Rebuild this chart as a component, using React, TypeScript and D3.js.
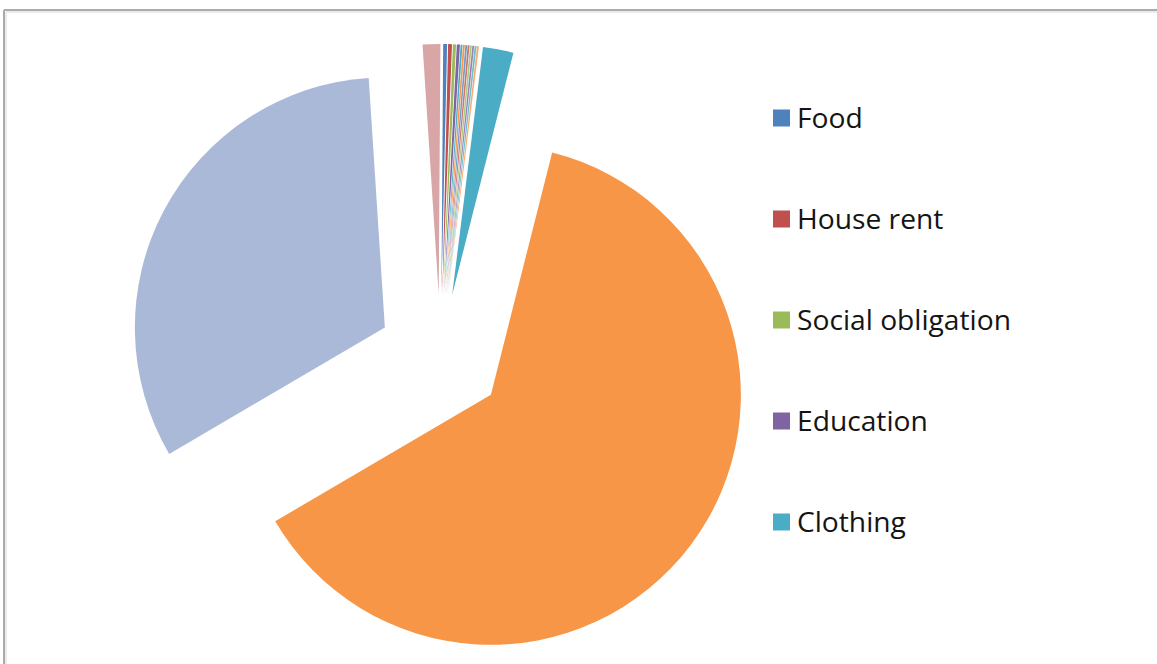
import React from "react";
import * as d3 from "d3";

// Slice order, clockwise from the top of the pie
const sliceNames = [
  "Food",
  "House rent",
  "Social obligation",
  "Education",
  "Item 6",
  "Item 7",
  "Item 8",
  "Item 9",
  "Item 10",
  "Item 11",
  "Item 12",
  "Item 13",
  "Clothing",
  "Item 14",
  "Item 15",
  "Item 16",
];
// Percent shares
const sliceValues = [
  0.25, 0.25, 0.2, 0.2, 0.12, 0.12, 0.12, 0.12, 0.12, 0.12, 0.12, 0.12, 1.97,
  62.6, 32.4, 1.14,
];
const sliceColors = [
  "#4F81BD",
  "#C0504D",
  "#9BBB59",
  "#8064A2",
  "#4BACC6",
  "#F79646",
  "#729ACA",
  "#CD7371",
  "#AFC97A",
  "#9983B5",
  "#6FBDD1",
  "#F9AB6B",
  "#4BACC6",
  "#F79646",
  "#A9B9D7",
  "#D8A6A6",
];
const legendNames = ["Food", "House rent", "Social obligation", "Education", "Clothing"];
const legendColors = ["#4F81BD", "#C0504D", "#9BBB59", "#8064A2", "#4BACC6"];

const W = 1157;
const H = 664;
const CX = 440.5;
const CY = 357;
const R = 250;
const EXPLODE = 63;
const START = (0.4 * Math.PI) / 180;

export default function App() {
  const data = sliceNames.map((n, i) => ({ name: n, value: sliceValues[i], color: sliceColors[i] }));
  const pie = d3
    .pie<any>()
    .sort(null)
    .value((d: any) => d.value)
    .startAngle(START)
    .endAngle(START + 2 * Math.PI);
  const arcs = pie(data);
  const arc = d3.arc<any>().innerRadius(0).outerRadius(R);

  const legendY = d3
    .scalePoint<string>()
    .domain(legendNames)
    .range([118, 522]);

  return (
    <svg
      width={W}
      height={H}
      style={{ position: "absolute", left: 0, top: 0, background: "#fff" }}
    >
      <rect x={0} y={0} width={W} height={H} fill="#fff" />
      {/* frame */}
      <line x1={4} y1={10} x2={W} y2={10} stroke="#ababab" strokeWidth={2} />
      <line x1={4} y1={10} x2={4} y2={H} stroke="#ababab" strokeWidth={2} />
      <line x1={6} y1={12} x2={W} y2={12} stroke="#e4e4e4" strokeWidth={1.5} />
      <line x1={6} y1={12} x2={6} y2={H} stroke="#e4e4e4" strokeWidth={1.5} />
      <g>
        {arcs.map((a, i) => {
          const mid = (a.startAngle + a.endAngle) / 2;
          const dx = CX + EXPLODE * Math.sin(mid);
          const dy = CY - EXPLODE * Math.cos(mid);
          return (
            <path
              key={i}
              d={arc(a) as string}
              fill={a.data.color}
              transform={`translate(${dx},${dy})`}
            />
          );
        })}
      </g>
      <g fontFamily="'Open Sans', Lato, sans-serif" fontSize={28.2} fill="#141414">
        {legendNames.map((n, i) => {
          const y = legendY(n) as number;
          return (
            <g key={n}>
              <rect x={773} y={y - 8.5} width={17} height={17} fill={legendColors[i]} />
              <text x={797} y={y + 10}>{n}</text>
            </g>
          );
        })}
      </g>
    </svg>
  );
}
